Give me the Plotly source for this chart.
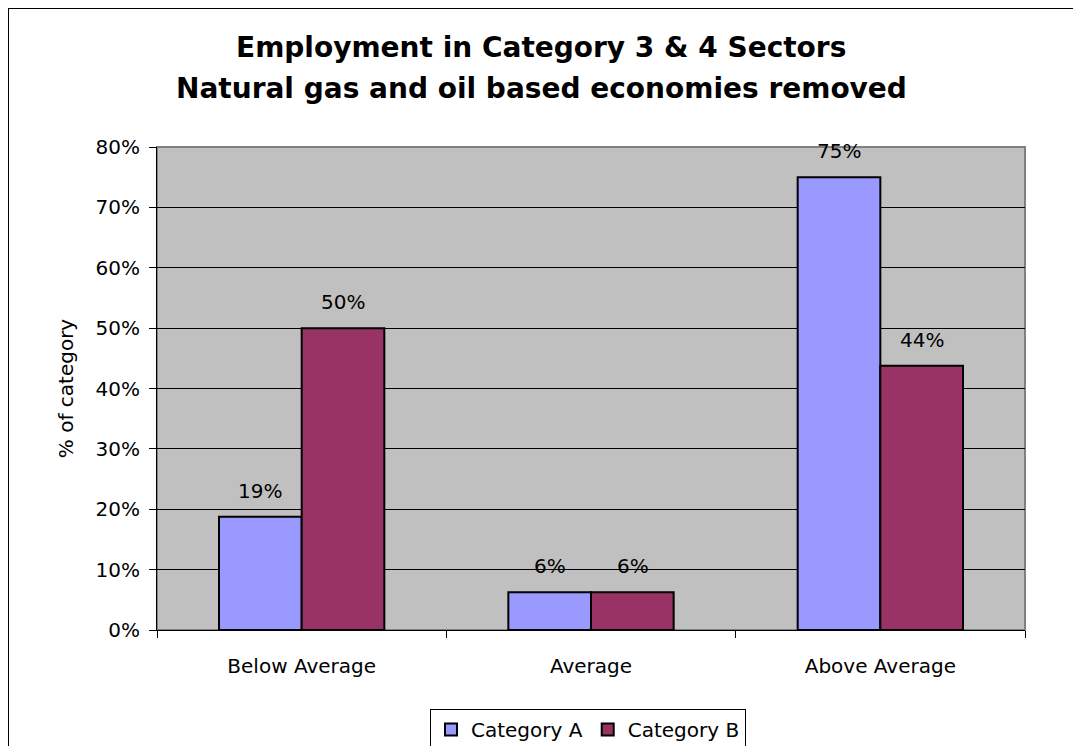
import plotly.graph_objects as go

categories = ["Below Average", "Average", "Above Average"]
category_a = [0.1875, 0.0625, 0.75]
category_b = [0.50, 0.0625, 0.4375]
series_names = ["Category A", "Category B"]
title_lines = ["Employment in Category 3 & 4 Sectors", "Natural gas and oil based economies removed"]

FONT = "DejaVu Sans"
OFF = 8  # page body margin
W, H = 1081 - OFF, 746 - OFF
L, R, T, B = 157 - OFF, 1025 - OFF, 147 - OFF, 630 - OFF

def px_x(p):
    return (p - OFF - L) / (R - L)

def px_y(p):
    return (B - (p - OFF)) / (B - T)

fig = go.Figure()
colors = ["#9999FF", "#993366"]
shifts = [-41.5, 41.5]
for name, vals, col, sh in zip(series_names, [category_a, category_b], colors, shifts):
    fig.add_trace(go.Bar(
        x=categories, y=vals, name=name,
        marker=dict(color=col, line=dict(color="black", width=2)),
    ))
    for c, v in zip(categories, vals):
        fig.add_annotation(x=c, y=v, xref="x", yref="y", text=f"{round(v*100)}%",
                           showarrow=False, xshift=sh, yshift=12, yanchor="bottom",
                           font=dict(family=FONT, size=20, color="black"))

for line, yc in zip(title_lines, [48, 88]):
    fig.add_annotation(x=px_x(541), y=px_y(yc), xref="paper", yref="paper", text="<b>" + line + "</b>",
                       showarrow=False, xanchor="center", yanchor="middle",
                       font=dict(family=FONT, size=28, color="black"))

fig.update_layout(
    width=W, height=H,
    margin=dict(l=L, r=W - R, t=T, b=H - B),
    paper_bgcolor="white",
    plot_bgcolor="#C0C0C0",
    barmode="group",
    bargap=0.4286,
    bargroupgap=0,
    font=dict(family=FONT, size=20, color="black"),
    showlegend=True,
    legend=dict(
        orientation="h", x=(588 - OFF) / W, xref="container", xanchor="center",
        y=1 - (709 - OFF) / H, yref="container", yanchor="top",
        bordercolor="black", borderwidth=1, bgcolor="white",
        font=dict(family=FONT, size=20), itemwidth=30,
        traceorder="normal",
    ),
    xaxis=dict(
        showgrid=False, showline=True, linecolor="black", linewidth=1,
        ticks="outside", tickson="boundaries", ticklen=7, tickcolor="black",
        tickfont=dict(family=FONT, size=20), ticklabelstandoff=18,
    ),
    yaxis=dict(
        range=[0, 0.8], dtick=0.1, tickformat=".0%",
        showgrid=True, gridcolor="black", gridwidth=1,
        showline=True, linecolor="black", linewidth=1,
        ticks="outside", ticklen=7, tickcolor="black",
        tickfont=dict(family=FONT, size=20), ticklabelstandoff=5,
        title=dict(text="% of category", font=dict(family=FONT, size=20), standoff=16),
        zeroline=False,
    ),
    shapes=[
        dict(type="rect", xref="paper", yref="paper", x0=0, x1=1, y0=0, y1=1,
             line=dict(color="#808080", width=2), layer="below"),
        dict(type="rect", xref="paper", yref="paper",
             x0=px_x(8), x1=px_x(1110), y0=px_y(780), y1=px_y(8),
             line=dict(color="black", width=2)),
    ],
)

fig.write_html("out.html")
